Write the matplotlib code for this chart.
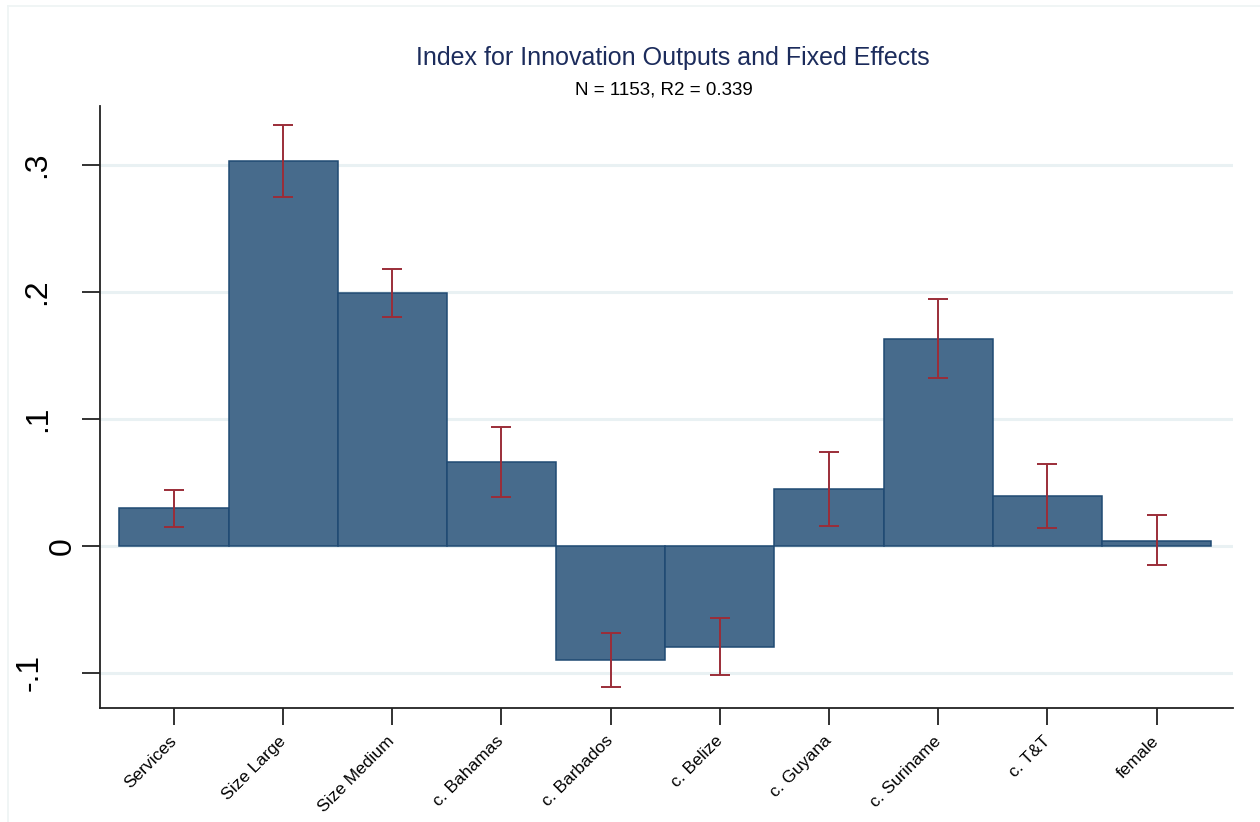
import matplotlib
matplotlib.use("Agg")
import matplotlib.pyplot as plt
from matplotlib.lines import Line2D
import numpy as np

# Coefficients with 95% confidence bounds
categories = ["Services", "Size Large", "Size Medium", "c. Bahamas", "c. Barbados",
              "c. Belize", "c. Guyana", "c. Suriname", "c. T&T", "female"]
coef = [0.0294, 0.3034, 0.1992, 0.0658, -0.0898, -0.0794, 0.0449, 0.1628, 0.0389, 0.0039]
ci_high = [0.0438, 0.3315, 0.2181, 0.0939, -0.0691, -0.0565, 0.0736, 0.1942, 0.0642, 0.0239]
ci_low = [0.0147, 0.2750, 0.1806, 0.0383, -0.1114, -0.1019, 0.0155, 0.1323, 0.0142, -0.0153]
yticks = [-0.1, 0.0, 0.1, 0.2, 0.3]
ytick_labels = ["-.1", "0", ".1", ".2", ".3"]

title = "Index for Innovation Outputs and Fixed Effects"
subtitle = "N = 1153, R2 = 0.339"

plt.rcParams["font.family"] = ["Liberation Sans", "DejaVu Sans"]

W, H = 1260, 822
fig = plt.figure(figsize=(W / 100, H / 100), dpi=100)
fig.patch.set_facecolor("white")

# faint outer frame
fig.add_artist(Line2D([8 / W, 1], [1 - 6 / H, 1 - 6 / H], color="#eef4f4", lw=1.2))
fig.add_artist(Line2D([8 / W, 8 / W], [0, 1 - 6 / H], color="#eef4f4", lw=1.2))

ax_l, ax_r, ax_t, ax_b = 100, 1233, 106, 708
ax = fig.add_axes([ax_l / W, 1 - ax_b / H, (ax_r - ax_l) / W, (ax_b - ax_t) / H])

x = np.arange(len(categories))
ax.bar(x, coef, width=1.0, color="#476b8c", edgecolor="#1f4a73", linewidth=1.1, zorder=3)
ax.errorbar(x, coef,
            yerr=[np.array(coef) - np.array(ci_low), np.array(ci_high) - np.array(coef)],
            fmt="none", ecolor="#9b2d38", elinewidth=1.4, capsize=7, capthick=1.4, zorder=4)

ax.set_xlim(-0.677, 9.70)
ax.set_ylim(-0.1278, 0.3465)

# grid
ax.set_yticks(yticks)
ax.set_yticklabels([])
for t in yticks:
    ax.axhline(t, color="#e9f1f3", lw=2.2, zorder=1, xmax=(1231 - ax_l) / (ax_r - ax_l))
ax.tick_params(axis="y", length=13, width=1.3, color="#222222", direction="out")

# rotated y labels
label_cx = {"-.1": 30, "0": 63, ".1": 38, ".2": 37, ".3": 37}
for t, lab in zip(yticks, ytick_labels):
    ax.text((label_cx[lab] - ax_l) / (ax_r - ax_l), t, lab, rotation=90,
            transform=ax.get_yaxis_transform(), ha="center", va="center",
            fontsize=23, color="black")

ax.set_xticks(x)
ax.set_xticklabels(categories, rotation=45, ha="right", va="center",
                   rotation_mode="anchor", fontsize=12.5)
ax.tick_params(axis="x", length=12, width=1.3, color="#222222", direction="out", pad=10)

for side in ["top", "right"]:
    ax.spines[side].set_visible(False)
for side in ["left", "bottom"]:
    ax.spines[side].set_color("#222222")
    ax.spines[side].set_linewidth(1.3)

fig.text(673 / W, 1 - 58 / H, title, ha="center", va="center", fontsize=18, color="#1c2c5c")
fig.text(664 / W, 1 - 90 / H, subtitle, ha="center", va="center", fontsize=13.5, color="black")

fig.savefig("out.png", dpi=100, facecolor="white")
